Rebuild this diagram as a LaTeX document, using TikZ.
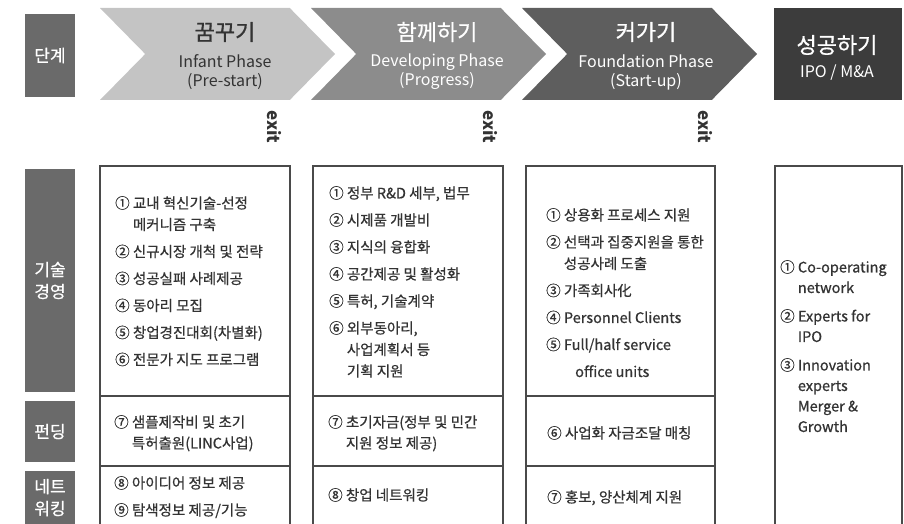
\documentclass[tikz,border=0pt]{standalone}
\usepackage{fontspec}
\setmainfont{Noto Sans CJK KR}
\newfontfamily\medfont[FakeBold=0.7]{Noto Sans CJK KR}
\usetikzlibrary{shapes.symbols,positioning}
\definecolor{stageA}{HTML}{C4C4C4}
\definecolor{stageB}{HTML}{8C8C8C}
\definecolor{stageC}{HTML}{5E5E5E}
\definecolor{stageD}{HTML}{3C3C3C}
\definecolor{labgray}{HTML}{6A6A6A}
\definecolor{txtdark}{HTML}{333333}
\definecolor{rule}{HTML}{4A4A4A}
\newcommand{\hang}{\hspace*{1.22em}}
\newcommand{\gap}{\\[5.5pt]}

\begin{document}
\begin{tikzpicture}[
  x=1pt, y=-1pt,
  chev/.style={signal, signal from=west, signal to=east, signal pointer angle=91,
    minimum width=235pt, minimum height=92pt, inner sep=0pt, draw=none},
  ttl/.style={font=\medfont\fontsize{22}{26}\selectfont, inner sep=0pt},
  sub/.style={font=\fontsize{16}{19}\selectfont, align=center, inner sep=0pt},
  lab/.style={fill=labgray, text=white, minimum width=50pt, inner sep=0pt,
    align=center, font=\medfont\fontsize{17}{22}\selectfont},
  cell/.style={anchor=north west, inner sep=0pt, align=left, text=txtdark,
    font=\medfont\fontsize{14.5}{21.5}\selectfont},
  exitlbl/.style={rotate=-90, inner sep=0pt, text=txtdark, font=\fontsize{17}{17}\selectfont\bfseries},
  colline/.style={draw=rule, line width=1.2pt}
]
\useasboundingbox (0,0) rectangle (904,524);
\clip (0,0) rectangle (904,524);

% stage row
\node[lab, minimum height=83pt] (lstage) at (50,55.5) {단계};
\node[chev, fill=stageA] (infant) at (217.5,54) {};
\node[chev, fill=stageB] (develop) at (428.5,54) {};
\node[chev, fill=stageC] (found) at (639.5,54) {};
\node[fill=stageD, minimum width=128pt, minimum height=92pt, inner sep=0pt] (success) at (838,54) {};

\node[ttl, text=txtdark] (tinfant) at (225,32) {꿈꾸기};
\node[sub, text=txtdark] (sinfant) at (225,72) {Infant Phase\\(Pre-start)};
\node[ttl, text=white] (tdevelop) at (437,32) {함께하기};
\node[sub, text=white] (sdevelop) at (437,72) {Developing Phase\\(Progress)};
\node[ttl, text=white] (tfound) at (646,32) {커가기};
\node[sub, text=white] (sfound) at (646,72) {Foundation Phase\\(Start-up)};
\node[ttl, text=white] (tsuccess) at (837,45) {성공하기};
\node[sub, text=white] (ssuccess) at (837,73) {IPO / M\&A};

\node[exitlbl] (xinfant) at (274,127) {exit};
\node[exitlbl] (xdevelop) at (490,127) {exit};
\node[exitlbl] (xfound) at (705,127) {exit};

% row labels
\node[lab, minimum height=223pt] (ltech) at (50,280.5) {기술\\경영};
\node[lab, minimum height=61pt] (lfund) at (50,431.5) {펀딩};
\node[lab, minimum height=53pt] (lnet) at (50,497.5) {네트\\워킹};

% columns
\draw[colline] (100,166) rectangle (290,540);
\draw[colline] (313,166) rectangle (503,540);
\draw[colline] (526,166) rectangle (715,540);
\draw[colline] (775,166) rectangle (902,540);
\foreach \xa/\xb in {100/290, 313/503, 526/715}{
  \draw[colline] (\xa,396) -- (\xb,396);
  \draw[colline] (\xa,466) -- (\xb,466);
}

% technology management
\node[cell] (tech1) at (115,196) {① 교내 혁신기술-선정\\\hang 메커니즘 구축\gap
  ② 신규시장 개척 및 전략\gap ③ 성공실패 사례제공\gap ④ 동아리 모집\gap
  ⑤ 창업경진대회(차별화)\gap ⑥ 전문가 지도 프로그램};
\node[cell] (tech2) at (329,186) {① 정부 R\&D 세부, 법무\gap ② 시제품 개발비\gap
  ③ 지식의 융합화\gap ④ 공간제공 및 활성화\gap ⑤ 특허, 기술계약\gap
  ⑥ 외부동아리,\\\hang 사업계획서 등\\\hang 기획 지원};
\node[cell] (tech3) at (546,208) {① 상용화 프로세스 지원\gap
  ② 선택과 집중지원을 통한\\\hang 성공사례 도출\gap ③ 가족회사化\gap
  ④ Personnel Clients\gap ⑤ Full/half service\gap \hspace*{2em}office units};
\node[cell, font=\medfont\fontsize{14.5}{20.5}\selectfont] (tech4) at (780,260)
  {① Co-operating\\\hang network\\[8pt] ② Experts for\\\hang IPO\\[8pt]
   ③ Innovation\\\hang experts\\\hang Merger \&\\\hang Growth};

% funding
\node[cell, font=\medfont\fontsize{14.5}{21}\selectfont] (fund1) at (114,415) {⑦ 샘플제작비 및 초기\\\hang 특허출원(LINC사업)};
\node[cell, font=\medfont\fontsize{14.5}{21}\selectfont] (fund2) at (328,415) {⑦ 초기자금(정부 및 민간\\\hang 지원 정보 제공)};
\node[cell] (fund3) at (547,426) {⑥ 사업화 자금조달 매칭};

% networking
\node[cell] (net1) at (114,476) {⑧ 아이디어 정보 제공\gap ⑨ 탐색정보 제공/기능};
\node[cell] (net2) at (328,488) {⑧ 창업 네트워킹};
\node[cell] (net3) at (547,490) {⑦ 홍보, 양산체계 지원};
\end{tikzpicture}
\end{document}
